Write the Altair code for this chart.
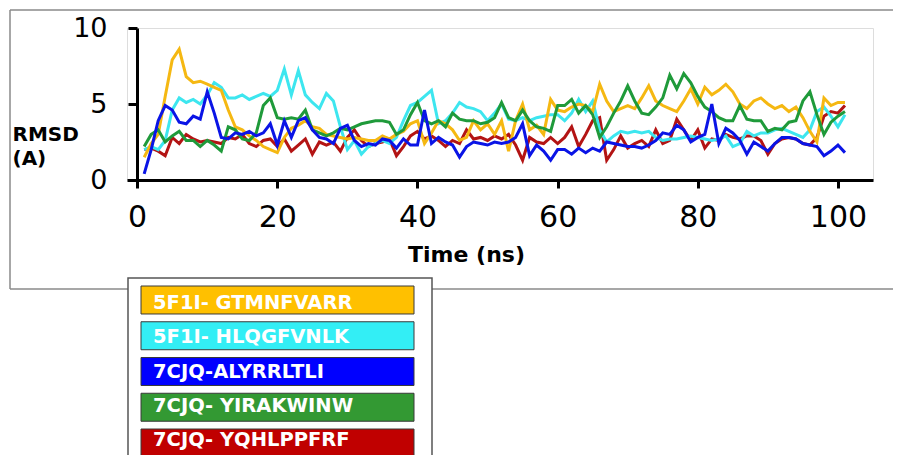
import altair as alt
import pandas as pd

time_ns = list(range(1, 102))

series_names = [
    "5F1I- GTMNFVARR",
    "5F1I- HLQGFVNLK",
    "7CJQ-ALYRRLTLI",
    "7CJQ- YIRAKWINW",
    "7CJQ- YQHLPPFRF",
]
line_colors = ["#F5B812", "#3DE6EF", "#0A14E6", "#1F9A3A", "#B31414"]
legend_fills = ["#FFC000", "#33EEF5", "#0000FF", "#339933", "#C00000"]

yellow = [1.5, 2.4, 3.0, 5.5, 7.9, 8.6, 6.8, 6.4, 6.5, 6.3,
          6.1, 5.9, 4.6, 3.5, 3.3, 2.9, 2.6, 2.2, 2.0, 1.8,
          2.8, 3.4, 3.6, 3.9, 3.5, 3.4, 3.0, 2.9, 2.8, 2.7,
          2.8, 2.7, 2.6, 2.6, 2.9, 2.7, 3.0, 3.2, 3.7, 3.9,
          2.4, 3.1, 3.9, 3.7, 3.3, 2.6, 2.8, 3.9, 3.3, 3.7,
          3.0, 3.9, 1.9, 3.9, 5.0, 3.3, 3.6, 3.0, 5.3, 4.6,
          4.5, 4.8, 5.0, 4.9, 4.5, 6.3, 5.2, 4.5, 4.7, 4.9,
          4.7, 5.4, 6.2, 5.2, 4.9, 4.7, 4.5, 5.2, 6.0, 5.0,
          6.1, 5.6, 5.9, 6.3, 5.8, 5.0, 4.7, 5.2, 5.4, 5.0,
          4.7, 4.9, 4.5, 4.8, 4.1, 3.2, 2.5, 5.4, 4.9, 5.1,
          5.1]
cyan = [2.0, 2.2, 2.0, 2.6, 4.6, 5.4, 5.1, 5.3, 5.0, 5.6,
        6.4, 6.1, 5.4, 5.4, 5.6, 5.3, 5.5, 5.7, 5.5, 5.9,
        7.3, 5.6, 7.2, 5.6, 5.1, 4.7, 5.7, 5.2, 3.5, 2.0,
        2.6, 1.7, 2.2, 2.4, 2.6, 2.4, 2.8, 3.9, 4.9, 5.1,
        5.5, 5.9, 3.7, 3.9, 4.4, 5.1, 4.8, 4.7, 4.5, 3.9,
        4.4, 5.0, 4.0, 3.9, 4.1, 3.9, 4.1, 4.2, 4.3, 4.3,
        3.9, 4.4, 5.3, 4.5, 5.2, 3.3, 2.5, 2.9, 3.2, 3.1,
        3.2, 3.1, 3.2, 2.8, 2.6, 2.7, 2.7, 2.8, 2.9, 2.8,
        2.7, 2.6, 2.7, 2.9, 2.2, 2.4, 3.2, 2.9, 3.1, 3.1,
        3.3, 3.4, 3.2, 3.0, 2.8, 3.3, 4.5, 4.8, 4.2, 3.5,
        4.3]
blue = [0.4, 2.0, 3.9, 4.9, 4.6, 3.8, 3.7, 4.2, 4.0, 5.8,
        4.4, 2.8, 2.7, 3.1, 3.0, 3.2, 2.9, 3.1, 3.7, 2.3,
        3.9, 2.8, 3.9, 4.1, 3.3, 2.8, 2.7, 2.4, 3.4, 3.6,
        2.6, 2.2, 2.4, 2.3, 2.7, 2.6, 2.1, 2.7, 2.3, 2.3,
        4.6, 2.4, 2.8, 2.5, 2.3, 1.5, 2.2, 2.5, 2.4, 2.3,
        2.5, 2.4, 2.5, 2.8, 3.7, 1.6, 2.3, 1.9, 1.3, 2.0,
        2.0, 1.7, 2.1, 1.8, 2.1, 1.9, 2.5, 2.4, 2.3, 2.2,
        2.2, 2.1, 2.3, 2.6, 3.1, 3.0, 3.6, 3.3, 2.5, 2.8,
        3.0, 5.0, 2.4, 3.4, 3.1, 2.6, 1.7, 2.5, 2.2, 1.9,
        2.4, 2.8, 2.8, 2.7, 2.4, 2.3, 2.2, 1.6, 1.9, 2.3,
        1.8]
green = [2.2, 3.0, 3.3, 2.5, 2.9, 3.2, 2.6, 2.6, 2.2, 2.6,
         2.3, 1.9, 3.5, 3.3, 2.7, 2.6, 3.1, 4.9, 5.4, 4.1,
         4.0, 4.1, 4.0, 4.6, 3.3, 3.1, 2.9, 3.1, 3.4, 3.3,
         3.5, 3.7, 3.8, 3.9, 3.9, 3.8, 3.0, 3.3, 4.3, 5.1,
         3.9, 3.7, 3.9, 3.5, 4.4, 4.0, 3.9, 3.9, 3.7, 3.8,
         4.1, 5.1, 4.1, 3.9, 4.6, 3.9, 3.5, 3.4, 3.2, 4.9,
         4.9, 5.3, 4.4, 4.9, 4.3, 2.8, 3.5, 4.4, 5.2, 6.2,
         5.2, 4.4, 4.3, 4.8, 5.4, 6.9, 6.0, 7.0, 6.4, 5.5,
         4.8, 4.5, 4.1, 3.9, 3.9, 4.9, 4.0, 3.9, 3.9, 3.2,
         3.4, 3.3, 3.8, 3.9, 5.2, 5.8, 4.3, 3.0, 3.8, 4.2,
         4.5]
red = [2.0, 2.1, 1.9, 1.6, 2.8, 2.4, 3.0, 2.7, 2.5, 2.6,
       2.5, 2.4, 2.8, 2.7, 3.0, 2.4, 2.2, 2.6, 2.7, 2.2,
       2.7, 1.9, 2.3, 2.7, 1.7, 2.5, 2.3, 2.5, 1.9, 2.8,
       3.3, 2.6, 2.2, 2.4, 2.5, 2.7, 1.6, 2.2, 2.9, 3.2,
       2.7, 2.9, 2.6, 2.2, 2.6, 2.4, 3.3, 2.7, 2.8, 2.6,
       2.9, 2.7, 3.0, 2.3, 1.3, 2.8, 2.5, 2.4, 2.8, 2.4,
       2.8, 3.5, 2.2, 3.0, 3.9, 4.1, 1.3, 2.0, 2.9, 2.1,
       2.4, 2.6, 2.2, 3.3, 2.4, 2.6, 4.0, 3.3, 2.6, 3.3,
       2.1, 2.7, 2.6, 3.0, 2.8, 2.7, 2.9, 2.9, 2.6, 1.7,
       2.4, 2.7, 2.8, 2.7, 2.4, 2.3, 2.8, 4.2, 4.5, 4.4,
       4.9]

x_ticks = [0, 20, 40, 60, 80, 100]
y_ticks = [0, 5, 10]

values_by_series = [yellow, cyan, blue, green, red]
draw_order = [4, 1, 0, 3, 2]  # red, cyan, yellow, green, blue (blue on top)

rows = []
for rank, idx in enumerate(draw_order):
    for t, v in zip(time_ns, values_by_series[idx]):
        rows.append({"time": t, "rmsd": v, "series": series_names[idx], "order": rank})
df = pd.DataFrame(rows)

legend_df = pd.DataFrame({"series": series_names, "fill": legend_fills})
one = pd.DataFrame({"k": [0]})

FONT = "DejaVu Sans"
FRAME = "#8a8a8a"

frame_top = alt.Chart(one).mark_rule(stroke=FRAME, strokeWidth=1.5).encode(
    x=alt.value(-117), x2=alt.value(800), y=alt.value(-18)
)
frame_bottom = alt.Chart(one).mark_rule(stroke=FRAME, strokeWidth=1.5).encode(
    x=alt.value(-117), x2=alt.value(800), y=alt.value(261)
)
frame_left = alt.Chart(one).mark_rule(stroke=FRAME, strokeWidth=1.5).encode(
    x=alt.value(-117), y=alt.value(-18), y2=alt.value(261)
)

lines = alt.Chart(df).mark_line(strokeWidth=3, strokeJoin="miter").encode(
    x=alt.X("time:Q",
            scale=alt.Scale(domain=[-1.45, 105], nice=False, zero=False),
            axis=alt.Axis(values=x_ticks, title="Time (ns)", grid=False, zindex=1,
                          labelFontSize=30, labelFont=FONT, labelColor="black",
                          labelPadding=14, labelFlush=False,
                          tickSize=8, tickWidth=3, tickColor="black",
                          domainWidth=3, domainColor="black",
                          titleFont=FONT, titleFontSize=22, titleFontWeight="bold",
                          titleColor="black", titleX=339, titleY=81,
                          titleAlign="center", titleBaseline="alphabetic")),
    y=alt.Y("rmsd:Q",
            scale=alt.Scale(domain=[0, 10], nice=False),
            axis=alt.Axis(values=y_ticks, title=["RMSD", "(A)"], grid=False, offset=-10, zindex=1,
                          labelFontSize=27, labelFont=FONT, labelColor="black",
                          labelPadding=21,
                          tickSize=9, tickWidth=3, tickColor="black",
                          domainWidth=3, domainColor="black",
                          titleAngle=0, titleAlign="left", titleBaseline="alphabetic",
                          titleX=-125, titleY=112, titleLineHeight=24,
                          titleFont=FONT, titleFontSize=20, titleFontWeight="bold",
                          titleColor="black")),
    color=alt.Color("series:N", scale=alt.Scale(domain=series_names, range=line_colors), legend=None),
    detail="series:N",
    order=alt.Order("order:Q"),
)

legend_box = alt.Chart(one).mark_rect(fill="white", stroke="#555555", strokeWidth=1.5).encode(
    x=alt.value(1), x2=alt.value(305), y=alt.value(250), y2=alt.value(470)
)

band_y = alt.Y("series:N",
               scale=alt.Scale(domain=series_names, range=[258, 429], paddingInner=0.217, paddingOuter=0),
               axis=None)

legend_rects = alt.Chart(legend_df).mark_rect(stroke="#3a3a3a", strokeWidth=1).encode(
    x=alt.value(14), x2=alt.value(287), y=band_y,
    fill=alt.Fill("fill:N", scale=None),
)

legend_text = alt.Chart(legend_df).mark_text(
    align="left", baseline="middle", font=FONT, fontWeight="bold", fontSize=19.5, color="white"
).encode(
    x=alt.value(26), y=band_y, text="series:N"
)

chart = alt.layer(frame_top, frame_bottom, frame_left, lines, legend_box, legend_rects, legend_text).resolve_scale(
    y="independent"
).properties(
    width=746, height=152,
    autosize=alt.AutoSizeParams(type="none"),
    padding={"left": 119, "top": 20, "right": 20, "bottom": 275},
    background="white",
).configure_view(strokeWidth=0).configure(font=FONT)

chart.save("out.html", embed_options={"renderer": "svg", "actions": False})
